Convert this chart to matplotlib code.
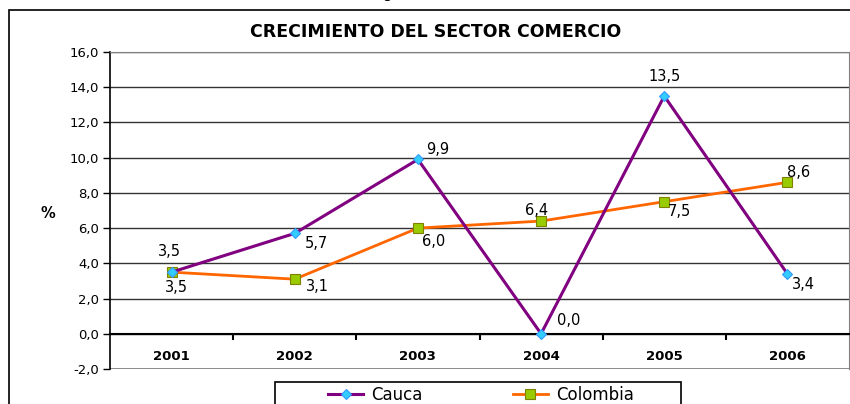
import matplotlib
matplotlib.use("Agg")
import matplotlib.pyplot as plt
from matplotlib.patches import Rectangle
from matplotlib.ticker import FuncFormatter

plt.rcParams['font.family'] = ['DejaVu Sans']

years = ['2001', '2002', '2003', '2004', '2005', '2006']
cauca = [3.5, 5.7, 9.9, 0.0, 13.5, 3.4]
colombia = [3.5, 3.1, 6.0, 6.4, 7.5, 8.6]

# label offsets in pixels (dx, dy)
cauca_off = [(-2, 21), (22, -10), (20, 10), (28, 13), (0, 20), (16, -11)]
colombia_off = [(5, -15), (23, -7), (16, -13), (-5, 11), (15, -10), (11, 10)]

fig = plt.figure(figsize=(8.5, 4.04), dpi=100)
ax = fig.add_axes([110 / 850, 35 / 404, 739 / 850, 317 / 404])

x = [i + 0.5 for i in range(len(years))]

ax.plot(x, cauca, color='#800080', lw=2.2, marker='D', ms=5,
        mfc='#33CCFF', mec='#3399FF', mew=0.8, label='Cauca', zorder=4)
ax.plot(x, colombia, color='#FF6600', lw=2.0, marker='s', ms=6.5,
        mfc='#99CC00', mec='#808000', mew=0.8, label='Colombia', zorder=3)

def fmt(v):
    return f"{v:.1f}".replace('.', ',')

for xi, v, off in zip(x, cauca, cauca_off):
    ax.annotate(fmt(v), (xi, v), xytext=off, textcoords='offset pixels',
                ha='center', va='center', fontsize=10.5, zorder=5)
for xi, v, off in zip(x, colombia, colombia_off):
    ax.annotate(fmt(v), (xi, v), xytext=off, textcoords='offset pixels',
                ha='center', va='center', fontsize=10.5, zorder=5)

ax.set_xlim(0, 6)
ax.set_ylim(-2, 16)
ax.set_yticks(range(-2, 17, 2))
ax.yaxis.set_major_formatter(FuncFormatter(lambda v, p: fmt(v)))
ax.tick_params(axis='y', direction='out', length=5, width=1, labelsize=9.5, pad=3)
ax.grid(axis='y', color='#333333', lw=1)
ax.set_axisbelow(True)

# category axis sits on zero
ax.spines['bottom'].set_position(('data', 0))
ax.spines['bottom'].set_linewidth(1.5)
ax.set_xticks(x)
ax.set_xticklabels(years, fontweight='bold', fontsize=9.5)
ax.set_xticks(range(1, 6), minor=True)
ax.tick_params(axis='x', which='major', length=0, pad=12)
ax.tick_params(axis='x', which='minor', direction='out', length=4, width=1.5)
ax.axhline(-2, color='#808080', lw=1.2, zorder=1)
ax.spines['right'].set_color('#808080')
ax.spines['top'].set_color('#808080')
ax.spines['left'].set_linewidth(1.2)

ax.set_ylabel('%', rotation=0, fontweight='bold', fontsize=10.5, va='center', ha='center')
ax.yaxis.set_label_coords(-0.084, 0.49)

fig.text(436 / 850, 1 - 32 / 404, 'CRECIMIENTO DEL SECTOR COMERCIO',
         ha='center', va='center', fontweight='bold', fontsize=12.5)
fig.text(387 / 850, 1 + 2 / 404, 'g', ha='center', va='baseline', fontsize=11)

fig.patches.append(Rectangle((9 / 850, -0.2), 1.2, 1.2 - 10 / 404, fill=False,
                             ec='black', lw=1.2, transform=fig.transFigure))

# legend frame, then the entries without a frame of their own
fig.patches.append(Rectangle((275 / 850, -0.2), 406 / 850, 0.2 + 22 / 404, fill=False,
                             ec='black', lw=1.2, transform=fig.transFigure))
fig.legend(loc='center', bbox_to_anchor=(481 / 850, 9 / 404), ncol=2,
           fontsize=12, frameon=False, handlelength=2.1, handletextpad=0.5,
           columnspacing=5.4, borderpad=0, borderaxespad=0)

fig.savefig('out.png', dpi=100)
